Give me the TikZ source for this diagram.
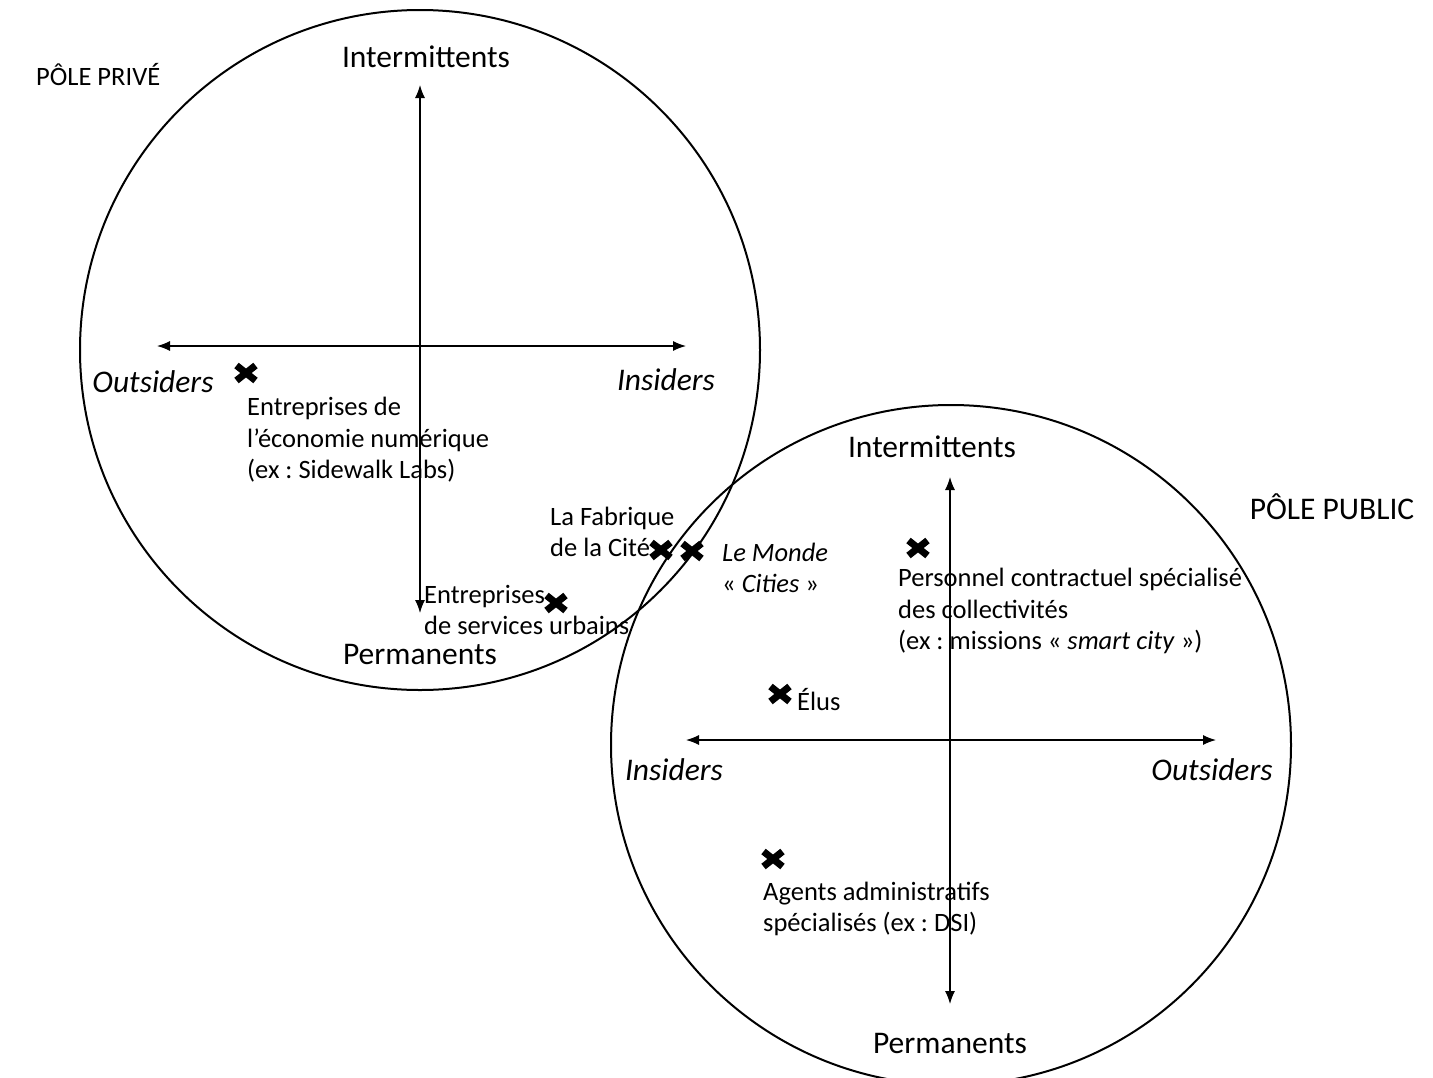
\documentclass[tikz,border=0pt]{standalone}
\usepackage{fontspec}
\setmainfont{Carlito}
\usetikzlibrary{arrows.meta}
\frenchspacing

\tikzset{
  cercle/.style={draw, circle, line width=2pt, minimum size=680pt, inner sep=0pt},
  axe/.style={line width=1.2pt, {Latex[length=13pt,width=10pt]}-{Latex[length=13pt,width=10pt]}},
  grand/.style={inner sep=0pt, font=\fontsize{31.5}{38}\selectfont},
  petit/.style={inner sep=0pt, anchor=west, align=left, font=\fontsize{26.5}{31.5}\selectfont},
  croix/.style={line width=7pt}
}
\newcommand{\marque}[1]{\draw[croix] (#1) ++(-9.5,-7.5) -- ++(19,15) (#1) ++(-9.5,7.5) -- ++(19,-15);}

\begin{document}
\begin{tikzpicture}[x=1pt,y=-1pt]
\useasboundingbox (0,0) rectangle (1433,1077);

% les deux poles
\node[cercle] (cprive) at (420,350) {};
\node[cercle] (cpublic) at (951,745) {};

% axes du pole prive
\coordinate (ph) at (420,85);
\coordinate (pb) at (420,613);
\coordinate (pg) at (157,346);
\coordinate (pd) at (686,346);
\draw[axe] (ph) -- (pb);
\draw[axe] (pg) -- (pd);

% axes du pole public
\coordinate (qh) at (950,477);
\coordinate (qb) at (950,1004);
\coordinate (qg) at (686,740);
\coordinate (qd) at (1216,740);
\draw[axe] (qh) -- (qb);
\draw[axe] (qg) -- (qd);

% titres et axes
\node[petit] (tprive) at (36,75) {PÔLE PRIVÉ};
\node[grand] (tpublic) at (1332,507) {PÔLE PUBLIC};
\node[grand] (pinter) at (426,57) {Intermittents};
\node[grand] (pperm) at (420,654) {Permanents};
\node[grand] (pout) at (153,382) {\itshape Outsiders};
\node[grand] (pins) at (666,380) {\itshape Insiders};
\node[grand] (qinter) at (932,447) {Intermittents};
\node[grand] (qperm) at (950,1043) {Permanents};
\node[grand] (qins) at (674,770) {\itshape Insiders};
\node[grand] (qout) at (1212,770) {\itshape Outsiders};

% acteurs
\coordinate (xnum) at (246,373);
\coordinate (xfab) at (661,550);
\coordinate (xmonde) at (692,551);
\coordinate (xserv) at (556,603);
\coordinate (xpers) at (918,548);
\coordinate (xelus) at (780,694);
\coordinate (xagents) at (773,859);
\marque{xnum}
\marque{xfab}
\marque{xmonde}
\marque{xserv}
\marque{xpers}
\marque{xelus}
\marque{xagents}

\node[petit] (lnum) at (247,440) {Entreprises de\\l’économie numérique\\(ex : Sidewalk Labs)};
\node[petit] (lfab) at (550,532) {La Fabrique\\de la Cité};
\node[petit] (lmonde) at (722,568) {\itshape Le Monde\\« \textit{Cities} »};
\node[petit] (lserv) at (424,610) {Entreprises\\de services urbains};
\node[petit] (lpers) at (898,611) {Personnel contractuel spécialisé\\des collectivités\\(ex : missions « \textit{smart city} »)};
\node[petit] (lelus) at (797,700) {Élus};
\node[petit] (lagents) at (763,909) {Agents administratifs\\spécialisés (ex : DSI)};
\end{tikzpicture}
\end{document}
